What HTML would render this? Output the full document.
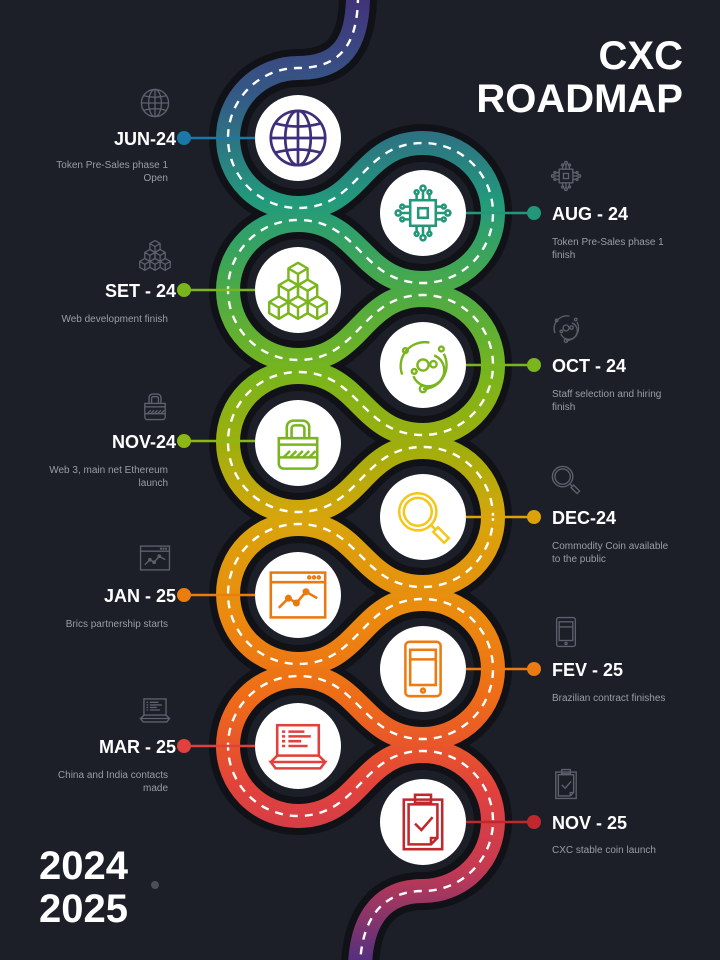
<!DOCTYPE html>
<html><head><meta charset="utf-8"><style>
html,body{margin:0;padding:0;background:#1c1f28;}
svg{display:block}
text{font-family:"Liberation Sans",sans-serif}
</style></head><body>
<svg width="720" height="960" viewBox="0 0 720 960" xmlns="http://www.w3.org/2000/svg">
<defs>
<linearGradient id="g" gradientUnits="userSpaceOnUse" x1="0" y1="0" x2="0" y2="960">
<stop offset="0" stop-color="#41337a"/>
<stop offset="0.1" stop-color="#345a86"/>
<stop offset="0.21" stop-color="#229a7c"/>
<stop offset="0.3" stop-color="#4aaa48"/>
<stop offset="0.39" stop-color="#78b51c"/>
<stop offset="0.47" stop-color="#a2ae0c"/>
<stop offset="0.54" stop-color="#d8a50c"/>
<stop offset="0.64" stop-color="#eb8a0e"/>
<stop offset="0.73" stop-color="#ee6b18"/>
<stop offset="0.82" stop-color="#e2423c"/>
<stop offset="0.9" stop-color="#c93a50"/>
<stop offset="1" stop-color="#55307f"/>
</linearGradient>
<symbol id="globe" viewBox="0 0 40 40"><g fill="none" stroke="currentColor" stroke-width="1.6"><circle cx="20" cy="20" r="16"/><ellipse cx="20" cy="20" rx="7.5" ry="16"/><line x1="4" y1="20" x2="36" y2="20"/><line x1="20" y1="4" x2="20" y2="36"/><path d="M7 11.5Q20 15 33 11.5M7 28.5Q20 25 33 28.5"/></g></symbol>
<symbol id="chip" viewBox="0 0 40 40"><g fill="none" stroke="currentColor" stroke-width="1.6"><rect x="12" y="12" width="16" height="16"/><rect x="17" y="17" width="6" height="6"/><path d="M16 12V8M20 12V6M24 12V8M16 28V32M20 28V34M24 28V32M12 16H8M12 20H6M12 24H8M28 16H32M28 20H34M28 24H32"/><circle cx="16" cy="7" r="1.2"/><circle cx="20" cy="4.5" r="1.6"/><circle cx="24" cy="7" r="1.2"/><circle cx="16" cy="33" r="1.2"/><circle cx="20" cy="35.5" r="1.6"/><circle cx="24" cy="33" r="1.2"/><circle cx="7" cy="16" r="1.2"/><circle cx="4.5" cy="20" r="1.6"/><circle cx="7" cy="24" r="1.2"/><circle cx="33" cy="16" r="1.2"/><circle cx="35.5" cy="20" r="1.6"/><circle cx="33" cy="24" r="1.2"/></g></symbol>
<symbol id="cubes" viewBox="0 0 40 40"><g fill="none" stroke="currentColor" stroke-width="1.5" stroke-linejoin="round"><path d="M20 3L26 6.5V13.5L20 17L14 13.5V6.5Z M14 6.5L20 10L26 6.5M20 10V17"/><path d="M14 13.5L20 17V24L14 27.5L8 24V17Z M8 17L14 20.5L20 17M14 20.5V27.5"/><path d="M26 13.5L32 17V24L26 27.5L20 24V17Z M20 17L26 20.5L32 17M26 20.5V27.5"/><path d="M8 24L14 27.5V34.5L8 38L2 34.5V27.5Z M2 27.5L8 31L14 27.5M8 31V38"/><path d="M20 24L26 27.5V34.5L20 38L14 34.5V27.5Z M14 27.5L20 31L26 27.5M20 31V38"/><path d="M32 24L38 27.5V34.5L32 38L26 34.5V27.5Z M26 27.5L32 31L38 27.5M32 31V38"/></g></symbol>
<symbol id="orbit" viewBox="0 0 40 40"><g fill="none" stroke="currentColor" stroke-width="1.5"><circle cx="20" cy="20" r="3.5"/><path d="M27 14A10 10 0 1 1 14 27"/><path d="M24 6A15 15 0 0 0 7 26"/><path d="M33 13A15 15 0 0 1 20 35"/><circle cx="26.5" cy="19.5" r="2"/><circle cx="14.5" cy="24" r="1.5"/><circle cx="20" cy="35" r="2"/><circle cx="9" cy="11" r="1.5"/><circle cx="31.5" cy="10" r="1.5"/></g></symbol>
<symbol id="lock" viewBox="0 0 40 40"><g fill="none" stroke="currentColor" stroke-width="1.6"><path d="M13 17V10A4 4 0 0 1 17 6H23A4 4 0 0 1 27 10V17M16 17V11A2 2 0 0 1 18 9H22A2 2 0 0 1 24 11V17"/><path d="M8 17H32V33A3 3 0 0 1 29 36H11A3 3 0 0 1 8 33Z"/><path d="M8 21H32M8 29H32M11 29L15 25M15 29L19 25M19 29L23 25M23 29L27 25M27 29L31 25"/></g></symbol>
<symbol id="mag" viewBox="0 0 40 40"><g fill="none" stroke="currentColor" stroke-width="1.6"><circle cx="16" cy="16" r="12"/><circle cx="16" cy="16" r="9"/><path d="M24.5 24.5L27 27M26 29L29 26L36 33L33 36Z"/></g></symbol>
<symbol id="chart" viewBox="0 0 40 40"><g fill="none" stroke="currentColor" stroke-width="1.6"><rect x="3" y="6" width="34" height="28"/><line x1="3" y1="12" x2="37" y2="12"/><circle cx="27" cy="9" r=".6"/><circle cx="30" cy="9" r=".6"/><circle cx="33" cy="9" r=".6"/><path d="M8 28L14 22L19 25L25 18L32 22"/><circle cx="14" cy="22" r="1.4"/><circle cx="19" cy="25" r="1.4"/><circle cx="25" cy="18" r="1.4"/></g></symbol>
<symbol id="tablet" viewBox="0 0 40 40"><g fill="none" stroke="currentColor" stroke-width="1.6"><rect x="9" y="3" width="22" height="34" rx="2.5"/><rect x="12" y="8" width="16" height="22"/><line x1="12" y1="14" x2="28" y2="14"/><circle cx="20" cy="33.5" r="1.2"/></g></symbol>
<symbol id="laptop" viewBox="0 0 40 40"><g fill="none" stroke="currentColor" stroke-width="1.6"><rect x="7" y="7" width="26" height="19"/><path d="M3 30H37L34 34H6Z M7 26L3 30M33 26L37 30"/><path d="M10 11H12M14 11H24M10 14H12M14 14H28M10 17H12M14 17H22M10 20H12M14 20H26"/></g></symbol>
<symbol id="clip" viewBox="0 0 40 40"><g fill="none" stroke="currentColor" stroke-width="1.6"><path d="M8 6H32V37H8Z"/><path d="M11 9H29V30L25 34H11Z M25 34V30H29"/><rect x="15" y="3" width="10" height="5"/><path d="M15 21L19 25L26 17"/></g></symbol>
</defs>

<path id="road" d="M358 -5 C358 45 340 68 298 68 A70 70 0 0 0 298 208 C360 208 361 143 423 143 A70 70 0 0 1 423 283 C361 283 360 220 298 220 A70 70 0 0 0 298 360 C360 360 361 295 423 295 A70 70 0 0 1 423 435 C361 435 360 372 298 372 A70 70 0 0 0 298 512 C360 512 361 447 423 447 A70 70 0 0 1 423 587 C361 587 360 524 298 524 A70 70 0 0 0 298 664 C360 664 361 599 423 599 A70 70 0 0 1 423 739 C361 739 360 676 298 676 A70 70 0 0 0 298 816 C360 816 361 751 423 751 A70 70 0 0 1 423 891 C385 891 362 915 360 965" fill="none" stroke="#101217" stroke-width="38"/>
<path d="M358 -5 C358 45 340 68 298 68 A70 70 0 0 0 298 208 C360 208 361 143 423 143 A70 70 0 0 1 423 283 C361 283 360 220 298 220 A70 70 0 0 0 298 360 C360 360 361 295 423 295 A70 70 0 0 1 423 435 C361 435 360 372 298 372 A70 70 0 0 0 298 512 C360 512 361 447 423 447 A70 70 0 0 1 423 587 C361 587 360 524 298 524 A70 70 0 0 0 298 664 C360 664 361 599 423 599 A70 70 0 0 1 423 739 C361 739 360 676 298 676 A70 70 0 0 0 298 816 C360 816 361 751 423 751 A70 70 0 0 1 423 891 C385 891 362 915 360 965" fill="none" stroke="url(#g)" stroke-width="24"/>
<path d="M358 -5 C358 45 340 68 298 68 A70 70 0 0 0 298 208 C360 208 361 143 423 143 A70 70 0 0 1 423 283 C361 283 360 220 298 220 A70 70 0 0 0 298 360 C360 360 361 295 423 295 A70 70 0 0 1 423 435 C361 435 360 372 298 372 A70 70 0 0 0 298 512 C360 512 361 447 423 447 A70 70 0 0 1 423 587 C361 587 360 524 298 524 A70 70 0 0 0 298 664 C360 664 361 599 423 599 A70 70 0 0 1 423 739 C361 739 360 676 298 676 A70 70 0 0 0 298 816 C360 816 361 751 423 751 A70 70 0 0 1 423 891 C385 891 362 915 360 965" fill="none" stroke="#fff" stroke-width="2.4" stroke-dasharray="8 7"/>

<!-- connector lines and dots -->
<g stroke-width="2.5">
<line x1="184" y1="138" x2="255" y2="138" stroke="#1a78a8"/><circle cx="184" cy="138" r="7" fill="#1a78a8"/>
<line x1="184" y1="290" x2="255" y2="290" stroke="#7ab51d"/><circle cx="184" cy="290" r="7" fill="#7ab51d"/>
<line x1="184" y1="441" x2="255" y2="441" stroke="#8cb814"/><circle cx="184" cy="441" r="7" fill="#8cb814"/>
<line x1="184" y1="595" x2="255" y2="595" stroke="#eb7d0f"/><circle cx="184" cy="595" r="7" fill="#eb7d0f"/>
<line x1="184" y1="746" x2="255" y2="746" stroke="#e0413d"/><circle cx="184" cy="746" r="7" fill="#e0413d"/>
<line x1="466" y1="213" x2="534" y2="213" stroke="#22977a"/><circle cx="534" cy="213" r="7" fill="#22977a"/>
<line x1="466" y1="365" x2="534" y2="365" stroke="#7ab51d"/><circle cx="534" cy="365" r="7" fill="#7ab51d"/>
<line x1="466" y1="517" x2="534" y2="517" stroke="#dca10b"/><circle cx="534" cy="517" r="7" fill="#dca10b"/>
<line x1="466" y1="669" x2="534" y2="669" stroke="#ec7a13"/><circle cx="534" cy="669" r="7" fill="#ec7a13"/>
<line x1="466" y1="822" x2="534" y2="822" stroke="#c0282e"/><circle cx="534" cy="822" r="7" fill="#c0282e"/>
</g>

<!-- white circles -->
<g fill="#fff">
<circle cx="298" cy="138" r="43"/><circle cx="298" cy="290" r="43"/><circle cx="298" cy="443" r="43"/><circle cx="298" cy="595" r="43"/><circle cx="298" cy="746" r="43"/>
<circle cx="423" cy="213" r="43"/><circle cx="423" cy="365" r="43"/><circle cx="423" cy="517" r="43"/><circle cx="423" cy="669" r="43"/><circle cx="423" cy="822" r="43"/>
</g>
<use href="#globe" x="264" y="104" width="68" height="68" color="#3f2f7a"/>
<use href="#cubes" x="266" y="258" width="64" height="64" color="#7ab51d"/>
<use href="#lock" x="266" y="411" width="64" height="64" color="#7ab51d"/>
<use href="#chart" x="266" y="563" width="64" height="64" color="#ea7a10"/>
<use href="#laptop" x="266" y="714" width="64" height="64" color="#e0413d"/>
<use href="#chip" x="391" y="181" width="64" height="64" color="#22977a"/>
<use href="#orbit" x="391" y="333" width="64" height="64" color="#7ab51d"/>
<use href="#mag" x="393" y="487" width="62" height="62" color="#f5c518"/>
<use href="#tablet" x="391" y="637" width="64" height="64" color="#ee7a10"/>
<use href="#clip" x="391" y="790" width="64" height="64" color="#c0282e"/>

<!-- gray side icons -->
<g color="#5d616b">
<use href="#globe" x="138" y="86" width="34" height="34"/>
<use href="#cubes" x="138" y="238" width="34" height="34"/>
<use href="#lock" x="138" y="389" width="34" height="34"/>
<use href="#chart" x="138" y="541" width="34" height="34"/>
<use href="#laptop" x="138" y="693" width="34" height="34"/>
<use href="#chip" x="549" y="159" width="34" height="34"/>
<use href="#orbit" x="549" y="311" width="34" height="34"/>
<use href="#mag" x="549" y="463" width="34" height="34"/>
<use href="#tablet" x="549" y="615" width="34" height="34"/>
<use href="#clip" x="549" y="767" width="34" height="34"/>
</g>

<!-- labels -->
<g fill="#fff" font-weight="bold" font-size="18" text-anchor="end">
<text x="176" y="145">JUN-24</text>
<text x="176" y="297">SET - 24</text>
<text x="176" y="448">NOV-24</text>
<text x="176" y="602">JAN - 25</text>
<text x="176" y="753">MAR - 25</text>
</g>
<g fill="#fff" font-weight="bold" font-size="18">
<text x="552" y="220">AUG - 24</text>
<text x="552" y="372">OCT - 24</text>
<text x="552" y="524">DEC-24</text>
<text x="552" y="676">FEV - 25</text>
<text x="552" y="829">NOV - 25</text>
</g>
<g fill="#9a9da5" font-size="10" text-anchor="end">
<text x="168" y="168">Token Pre-Sales phase 1</text><text x="168" y="181">Open</text>
<text x="168" y="322">Web development finish</text>
<text x="168" y="473">Web 3, main net Ethereum</text><text x="168" y="486">launch</text>
<text x="168" y="627">Brics partnership starts</text>
<text x="168" y="778">China and India contacts</text><text x="168" y="791">made</text>
</g>
<g fill="#9a9da5" font-size="10">
<text x="552" y="245">Token Pre-Sales phase 1</text><text x="552" y="258">finish</text>
<text x="552" y="397">Staff selection and hiring</text><text x="552" y="410">finish</text>
<text x="552" y="549">Commodity Coin available</text><text x="552" y="562">to the public</text>
<text x="552" y="701">Brazilian contract finishes</text>
<text x="552" y="853">CXC stable coin launch</text>
</g>

<g fill="#fff" font-weight="bold" text-anchor="end" font-size="40">
<text x="683" y="69">CXC</text>
<text x="683" y="112">ROADMAP</text>
</g>
<g fill="#fff" font-weight="bold" font-size="40">
<text x="39" y="879">2024</text>
<text x="39" y="922">2025</text>
</g>
<circle cx="155" cy="885" r="4" fill="#4a4e58"/>
</svg>
</body></html>
